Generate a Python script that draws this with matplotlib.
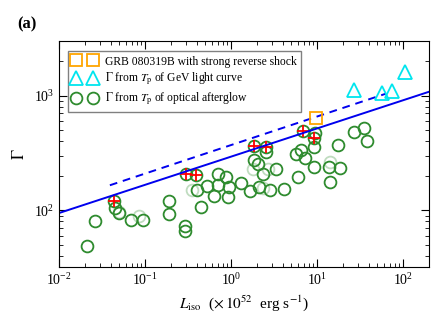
import numpy as np
import matplotlib
matplotlib.use("Agg")
import matplotlib.pyplot as plt

plt.rcParams['font.family'] = ['Liberation Serif', 'DejaVu Serif']
plt.rcParams['mathtext.fontset'] = 'stix'

# optical afterglow sample (L_iso in 1e52 erg/s, Gamma)
opt_L = [0.0211, 0.0262, 0.0435, 0.0443, 0.0497, 0.0684, 0.0942, 0.191, 0.191,
         0.295, 0.295, 0.301, 0.393, 0.399, 0.449, 0.527, 0.628, 0.700, 0.713,
         0.875, 0.938, 0.914, 1.306, 1.675, 1.863, 2.547, 2.547, 1.863, 2.035,
         3.33, 2.37, 2.13, 2.86, 4.15, 6.04, 5.68, 6.49, 7.28, 6.77, 9.5, 9.25,
         9.25, 9.08, 17.6, 13.8, 18.5, 14.2, 26.9, 35.2, 38.4]
opt_G = [48.5, 81.3, 120.6, 104.7, 94.2, 83.0, 81.8, 119.8, 93.6,
         72.6, 65.6, 208.9, 204.8, 149.4, 106.9, 161.9, 132.4, 208.9, 165.2,
         195.0, 158.7, 129.8, 173.0, 147.9, 364.8, 354.0, 322.3, 272.9, 255.4,
         231.0, 208.9, 159.6, 151.5, 152.4, 195.9, 307.7, 333.4, 287.9, 493.2, 469.0, 424.6,
         357.8, 239.4, 368.7, 237.1, 232.3, 175.4, 481.5, 524.0, 402.0]

# fainter (overlapping) optical points
faint_L = [0.0497, 0.0841, 0.353, 1.814, 2.66, 2.37, 14.2]
faint_G = [96.0, 88.6, 151.5, 231.0, 231.0, 155.5, 263.7]

# points marked with red crosses
cross_L = [0.0435, 0.301, 0.393, 1.863, 2.547, 6.77, 9.25]
cross_G = [120.6, 208.9, 204.8, 364.8, 354.0, 493.2, 424.6]

# GeV light curve sample
gev_L = [26.9, 57.4, 73.8, 105.0]
gev_G = [1112, 1054, 1097, 1607]

# GRB 080319B
rs_L = [9.6]
rs_G = [643]

# fitted relations Gamma = A * L^b
fit_A, fit_b = 294, 0.246
rs_A, rs_b = 371, 0.249
rs_range = (0.039, 63)

fig = plt.figure(figsize=(4.47, 3.33), dpi=100)
ax = fig.add_axes([0.132, 0.198, 0.828, 0.679])

green = '#2e8b2e'
ax.plot(faint_L, faint_G, 'o', mfc='none', mec=green, mew=1.3, ms=8.5, alpha=0.3)
ax.plot(opt_L, opt_G, 'o', mfc='none', mec=green, mew=1.3, ms=8.5)
ax.plot(cross_L, cross_G, '+', color='red', mew=1.3, ms=9)

xx = np.logspace(-2, np.log10(200), 50)
ax.plot(xx, fit_A * xx ** fit_b, '-', color='#0000ee', lw=1.4)
xd = np.logspace(np.log10(rs_range[0]), np.log10(rs_range[1]), 50)
ax.plot(xd, rs_A * xd ** rs_b, '--', color='#0000ee', lw=1.4, dashes=(4, 3))

ax.plot(rs_L, rs_G, 's', mfc='none', mec='#ffa500', mew=1.3, ms=9)
ax.plot(gev_L, gev_G, '^', mfc='none', mec='#00e5ee', mew=1.3, ms=10)

ax.set_xscale('log')
ax.set_yscale('log')
ax.set_xlim(0.01, 200)
ax.set_ylim(32, 3000)

ax.tick_params(which='both', direction='in', top=True, right=True, labelsize=10)
ax.tick_params(which='major', length=6)
ax.tick_params(which='minor', length=3)

ax.set_xlabel(r'$L_{\rm iso}$  ($\times\,10^{52}$  erg s$^{-1}$)', fontsize=11)
ax.set_ylabel(r'$\Gamma$', fontsize=12)

h1, = ax.plot([], [], 's', mfc='none', mec='#ffa500', mew=1.3, ms=9)
h2, = ax.plot([], [], '^', mfc='none', mec='#00e5ee', mew=1.3, ms=10)
h3, = ax.plot([], [], 'o', mfc='none', mec=green, mew=1.3, ms=8.5)
leg = ax.legend([h1, h2, h3],
                ['GRB 080319B with strong reverse shock',
                 r'$\Gamma$ from $T_{\rm p}$ of GeV light curve',
                 r'$\Gamma$ from $T_{\rm p}$ of optical afterglow'],
                loc='upper left', numpoints=2, fontsize=8.4, fancybox=False,
                edgecolor='gray', framealpha=1, handlelength=2.05,
                handletextpad=0.7, borderpad=0.4, labelspacing=0.3,
                borderaxespad=0, bbox_to_anchor=(0.024, 0.956))
leg.get_frame().set_linewidth(1.0)

fig.text(0.038, 0.915, '(a)', fontsize=12, fontweight='bold')

fig.savefig('out.png', dpi=100)
